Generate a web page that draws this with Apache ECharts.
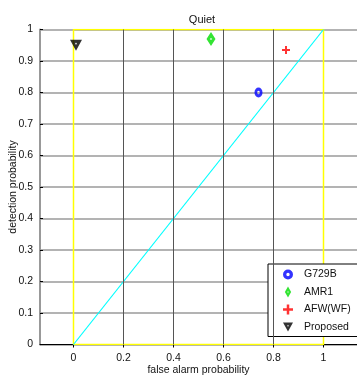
<!DOCTYPE html>
<html>
<head>
<meta charset="utf-8">
<script src="https://cdn.jsdelivr.net/npm/echarts@6/dist/echarts.min.js"></script>
<style>
  html, body { margin: 0; padding: 0; background: #fff; }
  #chart { width: 357px; height: 377px; }
</style>
</head>
<body>
<div id="chart"></div>
<script>
// Operating points of each detector: [false alarm probability, detection probability]
const g729b = [[0.74, 0.80]];
const amr1 = [[0.55, 0.97]];
const afw = [[0.85, 0.935]];
const proposed = [[0.01, 0.95]];

// Chance line and the unit box
const chanceLine = [[0, 0], [1, 1]];
const unitBox = [[0, 0], [1, 0], [1, 1], [0, 1], [0, 0]];

// Tick positions
const xTicks = [0, 0.2, 0.4, 0.6, 0.8, 1];
const xGridLines = [0.2, 0.4, 0.6, 0.8];
const xMin = -0.134, xMax = 1.134;

const font = 'Liberation Sans, Arial, sans-serif';

// Marker outlines with a small hole in the middle (opposite winding)
const ringPath = 'path://M0,5 A5,5 0 1,1 10,5 A5,5 0 1,1 0,5 Z M3.3,5 A1.7,1.7 0 1,0 6.7,5 A1.7,1.7 0 1,0 3.3,5 Z';
const diamondPath = 'path://M4,0 L8,7 L4,14 L0,7 Z M4,6 L3,7 L4,8 L5,7 Z';
const plusPath = 'path://M3,0h2v3h3v2h-3v3h-2v-3h-3v-2h3z';
const downTrianglePath = 'path://M0,0 L10,0 L5,9 Z M5,2.2 L4,3.7 L6,3.7 Z';

const chart = echarts.init(document.getElementById('chart'), null, { renderer: 'canvas' });

chart.setOption({
  animation: false,
  backgroundColor: '#fff',
  title: {
    text: 'Quiet',
    left: 197,
    textAlign: 'center',
    top: 9,
    textStyle: { fontFamily: font, fontSize: 11, fontWeight: 'normal', color: '#111' }
  },
  grid: { left: 40, right: 0, top: 29.5, bottom: 32.5, containLabel: false, outerBoundsMode: 'none' },
  xAxis: [{
    type: 'value',
    min: xMin,
    max: xMax,
    name: 'false alarm probability',
    nameLocation: 'middle',
    nameGap: 20,
    nameMoveOverlap: false,
    nameTextStyle: { fontFamily: font, fontSize: 10.5, color: '#111' },
    axisLine: { show: true, onZero: false, lineStyle: { color: '#000', width: 1 } },
    axisTick: { show: true, inside: true, length: 3, customValues: xTicks, lineStyle: { color: '#000' } },
    axisLabel: {
      customValues: xTicks,
      margin: 8,
      fontFamily: font, fontSize: 10.5, color: '#111',
      formatter: v => String(Math.round(v * 10) / 10)
    },
    splitLine: { show: false }
  }, {
    type: 'value',
    position: 'top',
    min: xMin,
    max: xMax,
    axisLine: { show: false },
    axisTick: { show: true, inside: true, length: 3, customValues: xTicks, lineStyle: { color: '#000' } },
    axisLabel: { show: false },
    splitLine: { show: false }
  }],
  yAxis: {
    type: 'value',
    min: 0,
    max: 1,
    interval: 0.1,
    name: 'detection probability',
    nameLocation: 'middle',
    nameGap: 21,
    nameMoveOverlap: false,
    nameTextStyle: { fontFamily: font, fontSize: 10.5, color: '#111' },
    axisLine: { show: true, onZero: false, lineStyle: { color: '#999', width: 2 } },
    axisTick: { show: true, inside: true, length: 3, lineStyle: { color: '#000' } },
    axisLabel: {
      margin: 7,
      fontFamily: font, fontSize: 10.5, color: '#111',
      formatter: v => String(Math.round(v * 10) / 10)
    },
    splitLine: { show: true, lineStyle: { color: '#9a9a9a', width: 1.5 } }
  },
  legend: {
    orient: 'vertical',
    left: 268,
    top: 264,
    width: 87,
    padding: [5, 8, 4, 15],
    itemGap: 6.5,
    itemWidth: 10,
    itemHeight: 11,
    backgroundColor: '#fff',
    borderColor: '#000',
    borderWidth: 1,
    textStyle: { fontFamily: font, fontSize: 10.5, color: '#111', padding: [0, 0, 0, 6] },
    data: ['G729B', 'AMR1', 'AFW(WF)', 'Proposed']
  },
  series: [
    {
      name: 'grid',
      type: 'line',
      data: [],
      silent: true,
      markLine: {
        silent: true,
        symbol: 'none',
        label: { show: false },
        lineStyle: { color: '#555', width: 1, type: 'solid' },
        data: xGridLines.map(v => ({ xAxis: v }))
      },
      z: 1
    },
    {
      name: 'box',
      type: 'line',
      data: unitBox,
      symbol: 'none',
      silent: true,
      lineStyle: { color: '#ffff00', width: 1.5 },
      z: 3
    },
    {
      name: 'chance',
      type: 'line',
      data: chanceLine,
      symbol: 'none',
      silent: true,
      lineStyle: { color: '#00ffff', width: 1.2 },
      z: 3
    },
    {
      name: 'G729B',
      type: 'scatter',
      data: g729b,
      symbol: ringPath,
      symbolSize: [8, 10],
      itemStyle: { color: '#0000ff' },
      z: 5
    },
    {
      name: 'AMR1',
      type: 'scatter',
      data: amr1,
      symbol: diamondPath,
      symbolSize: [9, 14],
      itemStyle: { color: '#00dd00' },
      z: 5
    },
    {
      name: 'AFW(WF)',
      type: 'scatter',
      data: afw,
      symbol: plusPath,
      symbolSize: 8,
      itemStyle: { color: '#ff0000' },
      z: 5
    },
    {
      name: 'Proposed',
      type: 'scatter',
      data: proposed,
      symbol: downTrianglePath,
      symbolSize: [12, 11],
      itemStyle: { color: '#000' },
      z: 5
    }
  ]
});
</script>
</body>
</html>
